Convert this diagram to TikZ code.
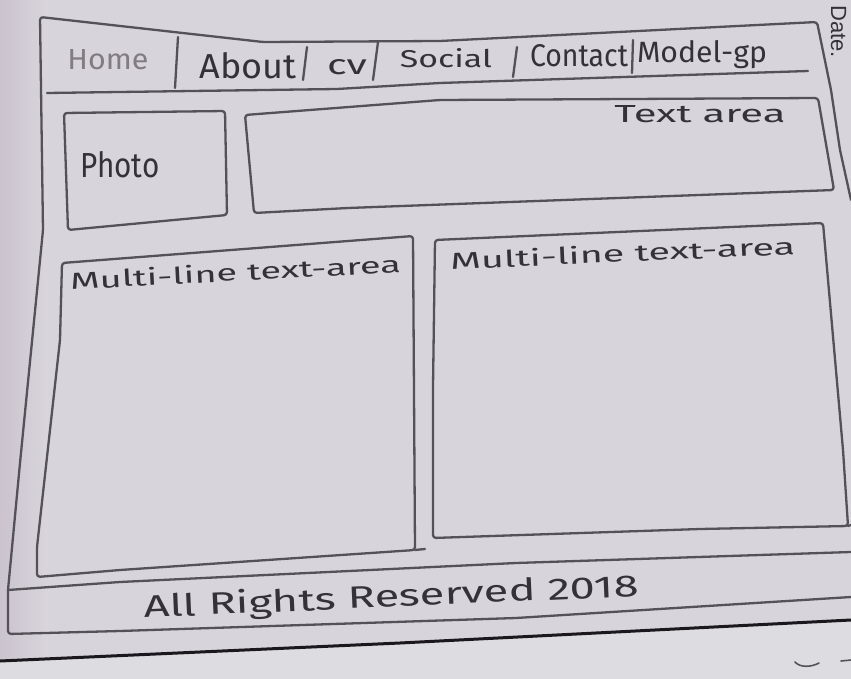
\documentclass[tikz,border=0pt]{standalone}
\usepackage{fontspec}
\setmainfont{Fira Sans}
\newfontfamily\printfont{Liberation Sans}
\definecolor{paper}{RGB}{215,212,220}
\definecolor{paperedge}{RGB}{203,195,205}
\definecolor{lowerpaper}{RGB}{221,220,225}
\definecolor{pencil}{RGB}{84,82,88}
\definecolor{inkgray}{RGB}{52,50,56}
\definecolor{fadedink}{RGB}{128,124,130}
\definecolor{edgeblack}{RGB}{26,24,28}
% scale a piece of lettering to a given width and height (in pt)
\newcommand\sketchtext[3]{\resizebox{#1pt}{#2pt}{#3}}
\begin{document}
\begin{tikzpicture}[x=1pt,y=-1pt,
  pencil/.style={draw=pencil, line width=2.3pt, line join=round, line cap=round, rounded corners=3pt},
  ink/.style={text=inkgray, inner sep=0pt, anchor=base},
]
\useasboundingbox (0,0) rectangle (851,679);
% paper and the sheet lying under it
\fill[paper] (0,0) rectangle (851,679);
\shade[left color=paperedge, right color=paper] (0,0) rectangle (45,661);
\fill[lowerpaper] (0,661) -- (400,643) -- (851,620) -- (851,679) -- (0,679) -- cycle;
\draw[edgeblack, line width=3pt] (0,661) -- (400,643) -- (851,620);
% stray marks on the lower sheet
\draw[pencil, line width=1.6pt] (795,662) .. controls (800,668) and (812,667) .. (819,663);
\draw[pencil, line width=1.6pt] (841,661) -- (851,660);

% outer page frame
\draw[pencil] (851,200) -- (840,150) -- (831,90) -- (817,22) -- (440,41) -- (263,42) -- (40,17)
  -- (43,230) -- (20,463) -- (8,590) -- (8,634) -- (120,631) -- (516,618) -- (851,597);
% footer top line
\draw[pencil] (8,590) -- (120,582) -- (516,563) -- (851,552);

% navigation bar
\draw[pencil] (47,93) -- (337,89) -- (440,83) -- (808,71);
\draw[pencil] (178,37) -- (175,88);
\draw[pencil] (307,47) -- (303,80);
\draw[pencil] (378,42) -- (373,80);
\draw[pencil] (517,47) -- (513,77);
\draw[pencil] (633,40) -- (632,73);

% photo box and text area
\draw[pencil] (64,113) -- (225,111) -- (227,215) -- (68,230) -- cycle;
\draw[pencil] (245,115) -- (440,100) -- (818,98) -- (834,190) -- (348,208) -- (254,213) -- cycle;

% two multi-line areas
\draw[pencil] (62,263) -- (413,236) -- (415,550) -- (120,570) -- (37,577) -- (37,547) -- (60,340) -- cycle;
\draw[pencil] (415,550) -- (425,549);
\draw[pencil] (435,240) -- (823,223) -- (843,450) -- (848,526) -- (700,529) -- (433,538) -- (433,387) -- cycle;
\draw[pencil] (848,526) -- (851,525);

% lettering
\node[ink, text=fadedink] (home) at (108,70) {\sketchtext{81}{20}{Home}};
\node[ink] (about) at (248,79) {\sketchtext{97}{26}{About}};
\node[ink] (cv) at (347,75) {\sketchtext{40}{15}{cv}};
\node[ink] (social) at (446,68) {\sketchtext{92}{19}{Social}};
\node[ink] (contact) at (579,67) {\sketchtext{98}{22}{Contact}};
\node[ink] (model) at (702,63) {\sketchtext{130}{22}{Model-gp}};
\node[ink] (photo) at (120,178) {\sketchtext{79}{26}{Photo}};
\node[ink] (textarea) at (700,123) {\sketchtext{171}{17}{Text area}};
\node[ink, rotate=3] (multileft) at (236,281) {\sketchtext{331}{18}{Multi-line text-area}};
\node[ink, rotate=2.5] (multiright) at (623,262) {\sketchtext{345}{18}{Multi-line text-area}};
\node[ink, rotate=2.5] (footer) at (392,607) {\sketchtext{495}{24}{All Rights Reserved 2018}};
\node[text=inkgray, inner sep=0pt, anchor=base west, rotate=-90, font=\printfont\fontsize{22}{22}\selectfont] (date) at (831,5) {Date.};
\end{tikzpicture}
\end{document}
